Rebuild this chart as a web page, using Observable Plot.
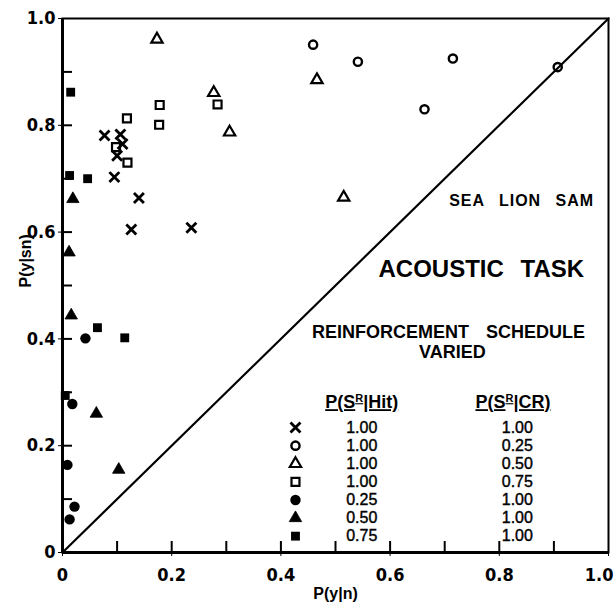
<!DOCTYPE html>
<html>
<head>
<meta charset="utf-8">
<script src="https://cdn.jsdelivr.net/npm/d3@7"></script>
<script src="https://cdn.jsdelivr.net/npm/@observablehq/plot@0.6"></script>
<style>
  html, body { margin: 0; padding: 0; background: #fff; }
</style>
</head>
<body>
<div id="chart"></div>
<script>
// ---------------- DATA ----------------
// P(y|n) = false-alarm rate, P(y|sn) = hit rate, one pair of arrays per schedule
const faTimes = [0.077, 0.106, 0.110, 0.100, 0.095, 0.140, 0.126, 0.236];
const hitTimes = [0.781, 0.783, 0.765, 0.743, 0.703, 0.664, 0.605, 0.608];

const faOpenCircle = [0.459, 0.541, 0.715, 0.663, 0.907];
const hitOpenCircle = [0.951, 0.919, 0.925, 0.830, 0.909];

const faOpenTriangle = [0.173, 0.277, 0.306, 0.466, 0.515];
const hitOpenTriangle = [0.961, 0.861, 0.787, 0.885, 0.665];

const faOpenSquare = [0.118, 0.178, 0.177, 0.119, 0.098, 0.284];
const hitOpenSquare = [0.813, 0.838, 0.801, 0.730, 0.759, 0.839];

const faFilledCircle = [0.042, 0.018, 0.009, 0.022, 0.013];
const hitFilledCircle = [0.401, 0.278, 0.164, 0.086, 0.062];

const faFilledTriangle = [0.019, 0.012, 0.016, 0.062, 0.103];
const hitFilledTriangle = [0.662, 0.562, 0.444, 0.260, 0.155];

const faFilledSquare = [0.015, 0.013, 0.046, 0.064, 0.114, 0.005];
const hitFilledSquare = [0.862, 0.706, 0.700, 0.421, 0.402, 0.294];

// Reinforcement schedule (legend)
const hitReinforcement = ["1.00", "1.00", "1.00", "1.00", "0.25", "0.50", "0.75"];
const crReinforcement  = ["1.00", "0.25", "0.50", "0.75", "1.00", "1.00", "1.00"];

// Axis ticks
const xTickValues = [0, 0.2, 0.4, 0.6, 0.8, 1.0];
const xTickLabels = ["0", "0.2", "0.4", "0.6", "0.8", "1.0"];
const yTickValues = [0, 0.2, 0.4, 0.6, 0.8, 1.0];
const yTickLabels = ["0", "0.2", "0.4", "0.6", "0.8", "1.0"];
const minorTickValues = [0.1, 0.2, 0.3, 0.4, 0.5, 0.6, 0.7, 0.8, 0.9];
const chanceDiagonal = [0, 1];

// ---------------- STYLE / LAYOUT ----------------
const seriesData = [
  [faTimes, hitTimes],
  [faOpenCircle, hitOpenCircle],
  [faOpenTriangle, hitOpenTriangle],
  [faOpenSquare, hitOpenSquare],
  [faFilledCircle, hitFilledCircle],
  [faFilledTriangle, hitFilledTriangle],
  [faFilledSquare, hitFilledSquare]
].map(([xs, ys]) => xs.map((x, i) => ({x, y: ys[i]})));

const seriesStyle = [
  {symbol: "times",    r: 4.6, fill: "none",  stroke: "black", strokeWidth: 2.8},
  {symbol: "circle",   r: 4.1, fill: "none",  stroke: "black", strokeWidth: 2.4},
  {symbol: "triangle", r: 4.2, fill: "none",  stroke: "black", strokeWidth: 2.2},
  {symbol: "square",   r: 4.5, fill: "none",  stroke: "black", strokeWidth: 2.2},
  {symbol: "circle",   r: 5.2, fill: "black", stroke: "none",  strokeWidth: 0},
  {symbol: "triangle", r: 4.6, fill: "black", stroke: "black", strokeWidth: 0.8},
  {symbol: "square",   r: 5.0, fill: "black", stroke: "none",  strokeWidth: 0}
];

// annotation placement (in axis units)
const legendSymbolX = 0.4267;
const legendHitX = 0.548;
const legendCrX = 0.833;
const legendRow0 = 0.234;
const legendStep = 0.0339;
const legendRowY = i => legendRow0 - i * legendStep;

const textFont = "'Liberation Sans', Arial, Helvetica, sans-serif";
const tickFont = "'Liberation Sans Narrow', 'DejaVu Sans Condensed', 'Liberation Sans', sans-serif";

const marks = [
  // chance diagonal
  Plot.line(chanceDiagonal, {x: d => d, y: d => d, stroke: "black", strokeWidth: 2.2}),
  // frame
  Plot.frame({stroke: "black", strokeWidth: 2}),
  Plot.ruleX([0], {stroke: "black", strokeWidth: 3}),
  Plot.ruleY([0], {stroke: "black", strokeWidth: 3}),
  // inward ticks
  Plot.tickY(minorTickValues, {y: d => d, insetRight: 536, stroke: "black", strokeWidth: 2}),
  Plot.tickX(minorTickValues, {x: d => d, insetTop: 523, stroke: "black", strokeWidth: 2}),
  // data points
  ...seriesData.map((pts, i) => Plot.dot(pts, {x: "x", y: "y", ...seriesStyle[i]})),
  // annotations
  Plot.text(["SEA LION SAM"], {x: () => 0.841, y: () => 0.659, text: d => d,
    fontFamily: textFont, fontWeight: "bold", fontSize: 16, fill: "black"}),
  Plot.text(["ACOUSTIC TASK"], {x: () => 0.767, y: () => 0.530, text: d => d,
    fontFamily: textFont, fontWeight: "bold", fontSize: 24, fill: "black"}),
  Plot.text(["REINFORCEMENT SCHEDULE"], {x: () => 0.707, y: () => 0.4125, text: d => d,
    fontFamily: textFont, fontWeight: "bold", fontSize: 18, fill: "black"}),
  Plot.text(["VARIED"], {x: () => 0.714, y: () => 0.375, text: d => d,
    fontFamily: textFont, fontWeight: "bold", fontSize: 18, fill: "black"}),
  // legend headers
  Plot.text(["P(SR|Hit)"], {x: () => legendHitX, y: () => 0.281, text: d => d,
    fontFamily: textFont, fontWeight: "bold", fontSize: 18, fill: "black"}),
  Plot.text(["P(SR|CR)"], {x: () => 0.825, y: () => 0.281, text: d => d,
    fontFamily: textFont, fontWeight: "bold", fontSize: 18, fill: "black"}),
  // legend symbols
  ...seriesStyle.map((s, i) => Plot.dot([i], {x: () => legendSymbolX, y: () => legendRowY(i), ...s})),
  // legend values
  Plot.text(hitReinforcement, {x: () => legendHitX, y: (d, i) => legendRowY(i), text: d => d,
    fontFamily: textFont, fontWeight: "normal", fontSize: 16, fill: "black", stroke: "black", strokeWidth: 0.4}),
  Plot.text(crReinforcement, {x: () => legendCrX, y: (d, i) => legendRowY(i), text: d => d,
    fontFamily: textFont, fontWeight: "normal", fontSize: 16, fill: "black", stroke: "black", strokeWidth: 0.4}),
  // axis titles
  Plot.text(["P(y|n)"], {frameAnchor: "bottom", dy: 46, text: d => d,
    fontFamily: textFont, fontWeight: "bold", fontSize: 16, fill: "black"}),
  Plot.text(["P(y|sn)"], {frameAnchor: "left", dx: -37, dy: 2, rotate: -90, text: d => d,
    fontFamily: textFont, fontWeight: "bold", fontSize: 16, fill: "black"})
];

const chart = Plot.plot({
  width: 616,
  height: 603,
  marginLeft: 62,
  marginRight: 8,
  marginTop: 18,
  marginBottom: 51,
  style: {fontFamily: tickFont, fontWeight: "bold", fontSize: "18px", color: "black", background: "white", overflow: "visible"},
  x: {domain: [0, 1], ticks: xTickValues, tickFormat: d => xTickLabels[xTickValues.indexOf(d)], tickSize: 4, tickPadding: 12, label: null},
  y: {domain: [0, 1], ticks: yTickValues, tickFormat: d => yTickLabels[yTickValues.indexOf(d)], tickSize: 4, tickPadding: 3, label: null},
  marks
});

// post-process texts: superscripts, underline, spacing
chart.querySelectorAll("text").forEach(t => {
  const s = t.textContent;
  if (s === "P(SR|Hit)" || s === "P(SR|CR)") {
    const rest = s.slice(4);
    t.textContent = "";
    const ns = "http://www.w3.org/2000/svg";
    const a = document.createElementNS(ns, "tspan"); a.textContent = "P(S";
    const b = document.createElementNS(ns, "tspan"); b.textContent = "R";
    b.setAttribute("dy", "-6"); b.setAttribute("font-size", "11");
    const c = document.createElementNS(ns, "tspan"); c.textContent = rest;
    c.setAttribute("dy", "6");
    t.append(a, b, c);
    t.style.textDecoration = "underline";
  } else if (s === "SEA LION SAM") {
    t.style.letterSpacing = "1px"; t.style.wordSpacing = "9px";
  } else if (s === "REINFORCEMENT SCHEDULE") {
    t.style.wordSpacing = "12px";
  } else if (s === "ACOUSTIC TASK") {
    t.style.wordSpacing = "10px";
  }
});
// keep the last x tick label inside the picture
chart.querySelectorAll('g[aria-label="x-axis tick label"] text').forEach(t => {
  if (t.textContent === "1.0") { t.setAttribute("text-anchor", "end"); t.setAttribute("dx", "5"); }
});

document.getElementById("chart").append(chart);
</script>
</body>
</html>
